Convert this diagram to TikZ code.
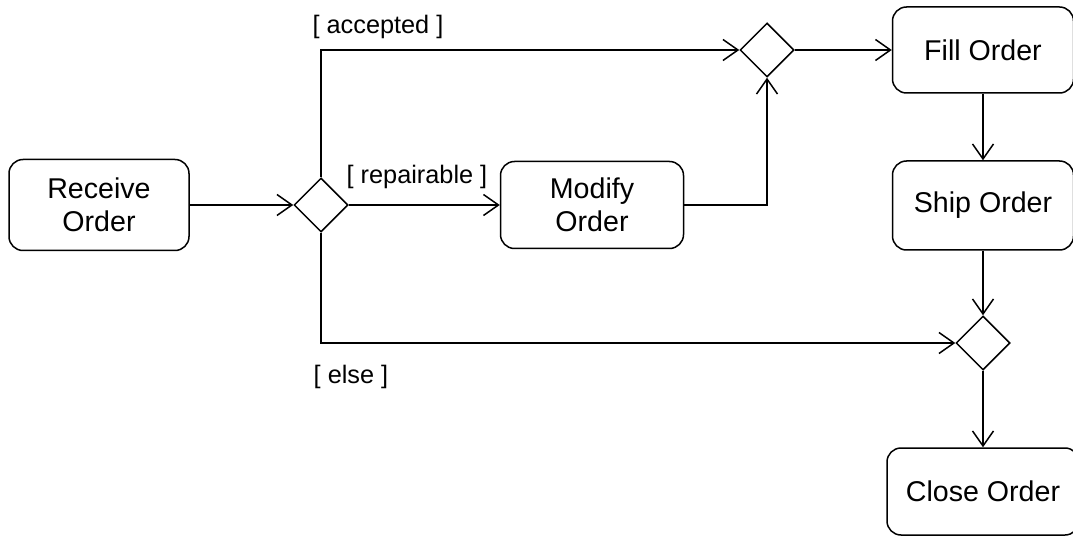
\documentclass[tikz,border=0pt]{standalone}
\usepackage{fontspec}
\setmainfont{Liberation Sans}
\usetikzlibrary{arrows.meta,shapes.geometric}

\begin{document}
\begin{tikzpicture}[x=1pt,y=-1pt,
    action/.style={rectangle,rounded corners=14pt,draw,line width=1.5pt,align=center,
      font=\fontsize{28.6}{33.5}\selectfont,minimum width=181pt,minimum height=87pt,inner sep=0pt},
    decision/.style={diamond,draw,line width=1.5pt,minimum size=54pt,inner sep=0pt},
    guard/.style={font=\fontsize{25.3}{29}\selectfont,inner sep=0pt}]
  \useasboundingbox (0,0) rectangle (1073,537);
  \node[action,minimum width=180pt,minimum height=91pt] (1) at (99,205) {Receive\\Order};
  \node[action,minimum width=183pt] (2) at (592,205) {Modify\\Order};
  \node[action,minimum height=86pt] (3) at (983,50) {Fill Order};
  \node[action,minimum height=89pt] (4) at (983,205.5) {Ship Order};
  \node[action,minimum width=192pt] (5) at (983,491.5) {Close Order};
  \node[decision] (6) at (321,205) {};
  \node[decision] (7) at (767,50) {};
  \node[decision] (8) at (983,343) {};
  \node[guard] (9) at (378,27) {[ accepted ]};
  \node[guard] (10) at (417,177) {[ repairable ]};
  \node[guard] (11) at (351,377) {[ else ]};
  \begin{scope}[>={Straight Barb[length=15pt,width=21pt]},line width=1.5pt,
      every edge/.style={draw=black,->}]
    \path (1) edge (6);
    \path (6) edge (2);
    \path (7) edge (3);
    \path (3) edge (4);
    \path (4) edge (8);
    \path (8) edge (5);
    \draw[->] (6.north) |- (7.west);
    \draw[->] (2.east) -| (7.south);
    \draw[->] (6.south) |- (8.west);
  \end{scope}
\end{tikzpicture}
\end{document}
